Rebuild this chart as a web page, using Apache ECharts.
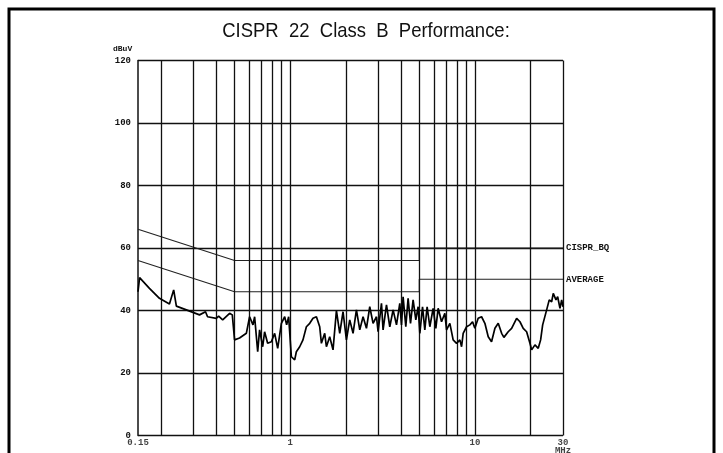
<!DOCTYPE html>
<html><head><meta charset="utf-8">
<script src="https://cdn.jsdelivr.net/npm/echarts@6/dist/echarts.min.js"></script>
<style>html,body{margin:0;padding:0;background:#fff}#c{width:723px;height:453px}</style>
</head><body><div id="c"></div>
<script>
const titleText = 'CISPR  22  Class  B  Performance:';
const yTicks = [0, 20, 40, 60, 80, 100, 120];
const xTickLabels = [[0.15, '0.15'], [1, '1'], [10, '10'], [30, '30\nMHz']];
const gridFreqs = [0.2, 0.3, 0.4, 0.5, 0.6, 0.7, 0.8, 0.9, 1, 2, 3, 4, 5, 6, 7, 8, 9, 10, 20, 30];
const qpFreq = [0.15, 0.5, 5, 5, 30];
const qpLevel = [66, 56, 56, 60, 60];
const avFreq = [0.15, 0.5, 5, 5, 30];
const avLevel = [56, 46, 46, 50, 50];
const traceFreq = [0.15,0.153,0.173,0.196,0.222,0.234,0.242,0.274,0.323,0.348,0.357,0.398,0.410,0.431,0.470,0.486,0.500,0.532,0.579,0.603,0.629,0.642,0.667,0.683,0.710,0.727,0.755,0.791,0.824,0.856,0.896,0.934,0.957,0.981,1.015,1.058,1.080,1.126,1.173,1.224,1.276,1.329,1.387,1.445,1.476,1.538,1.571,1.637,1.706,1.780,1.855,1.933,2.016,2.101,2.190,2.284,2.381,2.481,2.588,2.697,2.811,2.933,2.992,3.121,3.184,3.322,3.462,3.608,3.764,3.922,4.006,4.087,4.227,4.350,4.482,4.630,4.789,4.929,5.035,5.207,5.358,5.514,5.703,5.943,6.146,6.326,6.600,6.877,7.025,7.320,7.628,7.958,8.294,8.472,8.643,9.017,9.396,9.716,10.0,10.42,10.87,11.33,11.81,12.31,12.84,13.38,13.96,14.36,15.15,15.81,16.13,16.83,17.54,18.27,19.06,19.87,20.29,21.15,22.03,22.70,23.28,23.66,24.47,25.27,26.04,26.57,27.48,28.07,28.89,29.51,30];
const traceLevel = [46,50.5,47.1,43.9,42.1,46.6,41.4,40.2,38.6,39.6,38,37.5,38.2,37,39.1,38.6,30.6,31.2,32.7,38,35.4,38,26.8,33.8,28.4,33.2,29.5,30,32.7,27.9,35.9,38,35.4,38,25.2,24.2,26.8,28.4,30.6,34.8,35.9,37.5,38,34.8,29.5,32.7,28.4,31.6,27.4,40,32.7,39.6,30.6,37,32.7,40.2,33.8,38,34.3,41.2,35.9,38,33.2,42.3,33.8,41.8,34.8,40.2,35.4,42.3,35.4,44.4,34.8,43.9,35.9,43.4,37,41.2,32.7,41.2,33.8,41.2,34.8,40.7,34.3,40.7,36.4,39.1,33.8,35.9,30.6,29.5,30.6,28.4,32.7,34.8,35.4,36.4,34.3,37.5,38,35.9,31.6,30,34.3,35.9,32.7,31.4,33.2,34.3,33.8,37.5,36.4,34.3,33.2,29.5,27.4,29,27.9,30.6,35.4,35.9,40.2,43.4,42.8,45.5,43.4,44.4,40.7,43.4,41.2];

const zip = (a, b) => a.map((v, i) => [v, b[i]]);
const lblFont = {fontFamily: 'Liberation Mono', fontWeight: 'bold', fontSize: 9, color: '#111'};

const chart = echarts.init(document.getElementById('c'), null, {renderer: 'canvas'});
chart.setOption({
  animation: false,
  backgroundColor: '#fff',
  graphic: [
    {type: 'rect', shape: {x: 9, y: 9, width: 705, height: 470}, style: {fill: 'none', stroke: '#000', lineWidth: 3}},
    {type: 'text', x: 366, y: 31, scaleX: 0.88, originX: 0, originY: 0,
      style: {text: titleText, fontFamily: 'Liberation Sans', fontSize: 21, fill: '#111',
        textAlign: 'center', textVerticalAlign: 'middle'}},
    {type: 'text', left: 113, top: 45, style: {text: 'dBuV', fontFamily: 'Liberation Mono', fontWeight: 'bold', fontSize: 8, fill: '#111'}}
  ],
  grid: {left: 138, right: 160, top: 60.5, bottom: 17.5},
  xAxis: {type: 'log', logBase: 10, min: 0.15, max: 30,
    axisLine: {show: false}, axisTick: {show: false}, axisLabel: {show: false}, splitLine: {show: false}},
  yAxis: {type: 'value', min: 0, max: 120, interval: 20,
    axisLine: {show: true, lineStyle: {color: '#111', width: 1.5}}, axisTick: {show: false},
    axisLabel: Object.assign({margin: 7}, lblFont),
    splitLine: {show: true, lineStyle: {color: '#111', width: 1.3}}},
  series: [
    {type: 'line', data: [], silent: true,
      markLine: {silent: true, symbol: 'none', label: {show: false},
        lineStyle: {color: '#111', width: 1.3, type: 'solid'},
        data: gridFreqs.map(f => ({xAxis: f}))}},
    {type: 'line', name: 'CISPR_BQ', data: zip(qpFreq, qpLevel), symbol: 'none',
      lineStyle: {color: '#222', width: 1.1},
      endLabel: {show: true, formatter: 'CISPR_BQ', distance: 3, fontFamily: 'Liberation Mono', fontWeight: 'bold', fontSize: 9, color: '#111'}},
    {type: 'line', name: 'AVERAGE', data: zip(avFreq, avLevel), symbol: 'none',
      lineStyle: {color: '#222', width: 1.1},
      endLabel: {show: true, formatter: 'AVERAGE', distance: 3, fontFamily: 'Liberation Mono', fontWeight: 'bold', fontSize: 9, color: '#111'}},
    {type: 'line', name: 'trace', data: zip(traceFreq, traceLevel), symbol: 'none',
      lineStyle: {color: '#000', width: 1.7}, z: 5},
    {type: 'scatter', data: xTickLabels.map(t => ({value: [t[0], 0], name: t[1]})),
      symbolSize: 0, silent: true,
      label: Object.assign({show: true, position: 'bottom', distance: 3, lineHeight: 8,
        formatter: p => p.name}, lblFont)}
  ]
});
</script></body></html>
